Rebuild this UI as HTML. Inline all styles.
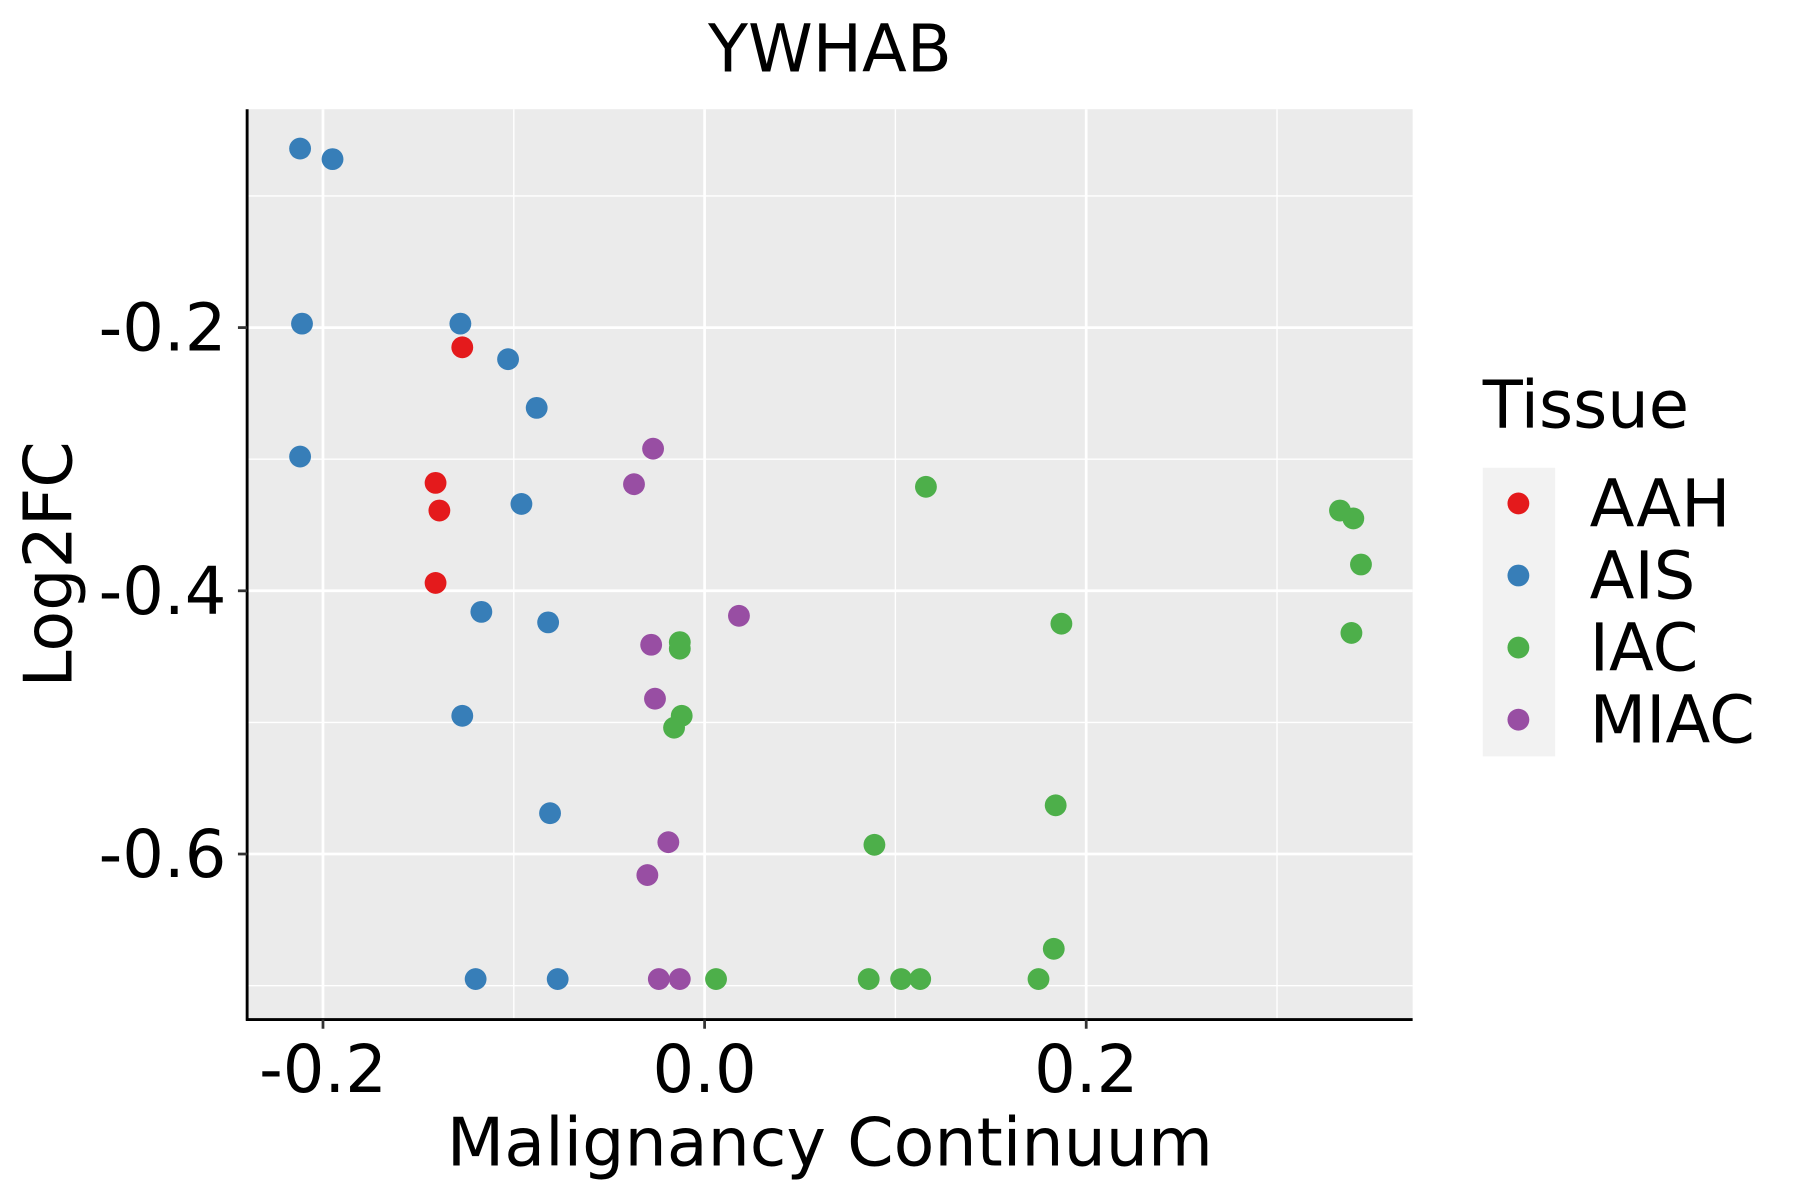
<!DOCTYPE html>
<html><head><meta charset="utf-8"><style>html,body{margin:0;padding:0;background:#fff}svg{display:block}text{font-family:"DejaVu Sans","Liberation Sans",sans-serif}</style></head>
<body>
<svg id="chart" width="1800" height="1200" viewBox="0 0 1566 1044" preserveAspectRatio="none" xmlns="http://www.w3.org/2000/svg">
<rect x="215" y="95" width="1014" height="792" fill="#ebebeb"/>
<g id="grid"></g>
<g id="points"></g>
<line x1="215" y1="95" x2="215" y2="888" stroke="#000" stroke-width="2.5"/>
<line x1="214" y1="887" x2="1229" y2="887" stroke="#000" stroke-width="2.5"/>
<g id="ticks"></g>
<text x="722" y="62" font-size="57" text-anchor="middle">YWHAB</text>
<text x="722" y="1014" font-size="58" text-anchor="middle">Malignancy Continuum</text>
<text transform="translate(62,491) rotate(-90)" font-size="58" text-anchor="middle">Log2FC</text>
<text x="1290" y="372" font-size="57">Tissue</text>
<rect x="1290" y="407" width="63" height="251" fill="#f2f2f2"/>
<g id="legend"></g>
</svg>
<script>
const categories = ["AAH","AIS","IAC","MIAC"];
const colors = ["#e41a1c","#377eb8","#4daf4a","#984ea3"];
const aahX = [-0.127,-0.141,-0.139,-0.141];
const aahY = [-0.215,-0.318,-0.339,-0.394];
const aisX = [-0.212,-0.195,-0.211,-0.128,-0.103,-0.088,-0.212,-0.096,-0.117,-0.082,-0.127,-0.081,-0.120,-0.077];
const aisY = [-0.064,-0.072,-0.197,-0.197,-0.224,-0.261,-0.298,-0.334,-0.416,-0.424,-0.495,-0.569,-0.695,-0.695];
const iacX = [0.116,0.333,0.340,0.344,0.187,0.339,-0.013,-0.013,-0.012,-0.016,0.184,0.089,0.183,0.006,0.086,0.103,0.113,0.175];
const iacY = [-0.321,-0.339,-0.345,-0.380,-0.425,-0.432,-0.439,-0.444,-0.495,-0.504,-0.563,-0.593,-0.672,-0.695,-0.695,-0.695,-0.695,-0.695];
const miacX = [-0.027,-0.037,0.018,-0.028,-0.026,-0.019,-0.030,-0.024,-0.013];
const miacY = [-0.292,-0.319,-0.419,-0.441,-0.482,-0.591,-0.616,-0.695,-0.695];
const xTicks = [-0.2,0.0,0.2];
const xTickLabels = ["-0.2","0.0","0.2"];
const xMinor = [-0.1,0.1,0.3];
const yTicks = [-0.2,-0.4,-0.6];
const yTickLabels = ["-0.2","-0.4","-0.6"];
const yMinor = [-0.1,-0.3,-0.5,-0.7];

const NS = "http://www.w3.org/2000/svg";
function xs(v){return 613+1660*v;}
function ys(v){return 285-(v+0.2)*1145;}
function mk(tag, attrs, parent){const e=document.createElementNS(NS,tag);for(const k in attrs)e.setAttribute(k,attrs[k]);parent.appendChild(e);return e;}
const grid=document.getElementById('grid');
xMinor.forEach(v=>{const l=mk('line',{x1:xs(v),x2:xs(v),y1:95,y2:887,stroke:'#fff','stroke-width':1.2},grid);

});
yMinor.forEach(v=>{const l=mk('line',{x1:215,x2:1229,y1:ys(v),y2:ys(v),stroke:'#fff','stroke-width':1.2},grid);

});
xTicks.forEach(v=>{const l=mk('line',{x1:xs(v),x2:xs(v),y1:95,y2:887,stroke:'#fff','stroke-width':2.4},grid);

});
yTicks.forEach(v=>{const l=mk('line',{x1:215,x2:1229,y1:ys(v),y2:ys(v),stroke:'#fff','stroke-width':2.4},grid);

});
const ticks=document.getElementById('ticks');
xTicks.forEach((v,i)=>{const l=mk('line',{x1:xs(v),x2:xs(v),y1:887,y2:895,stroke:'#333','stroke-width':2.4},ticks);


const t=mk('text',{x:xs(v),y:950,'font-size':57,'text-anchor':'middle'},ticks);t.textContent=xTickLabels[i];

});
yTicks.forEach((v,i)=>{const l=mk('line',{x1:207,x2:215,y1:ys(v),y2:ys(v),stroke:'#333','stroke-width':2.4},ticks);


const t=mk('text',{x:197,y:ys(v)+20,'font-size':57,'text-anchor':'end'},ticks);t.textContent=yTickLabels[i];

});
const series=[[aahX,aahY],[aisX,aisY],[iacX,iacY],[miacX,miacY]];
const pts=document.getElementById('points');
series.forEach((s,si)=>{s[0].forEach((xv,j)=>{const c=mk('circle',{cx:xs(xv),cy:ys(s[1][j]),r:9.5,fill:colors[si]},pts);

});});
const lg=document.getElementById('legend');
categories.forEach((c,i)=>{const y=438+i*62.7;
const k=mk('circle',{cx:1321,cy:y,r:9.5,fill:colors[i]},lg);


const t=mk('text',{x:1383,y:y+20,'font-size':57},lg);t.textContent=c;

});
</script>
</body></html>
